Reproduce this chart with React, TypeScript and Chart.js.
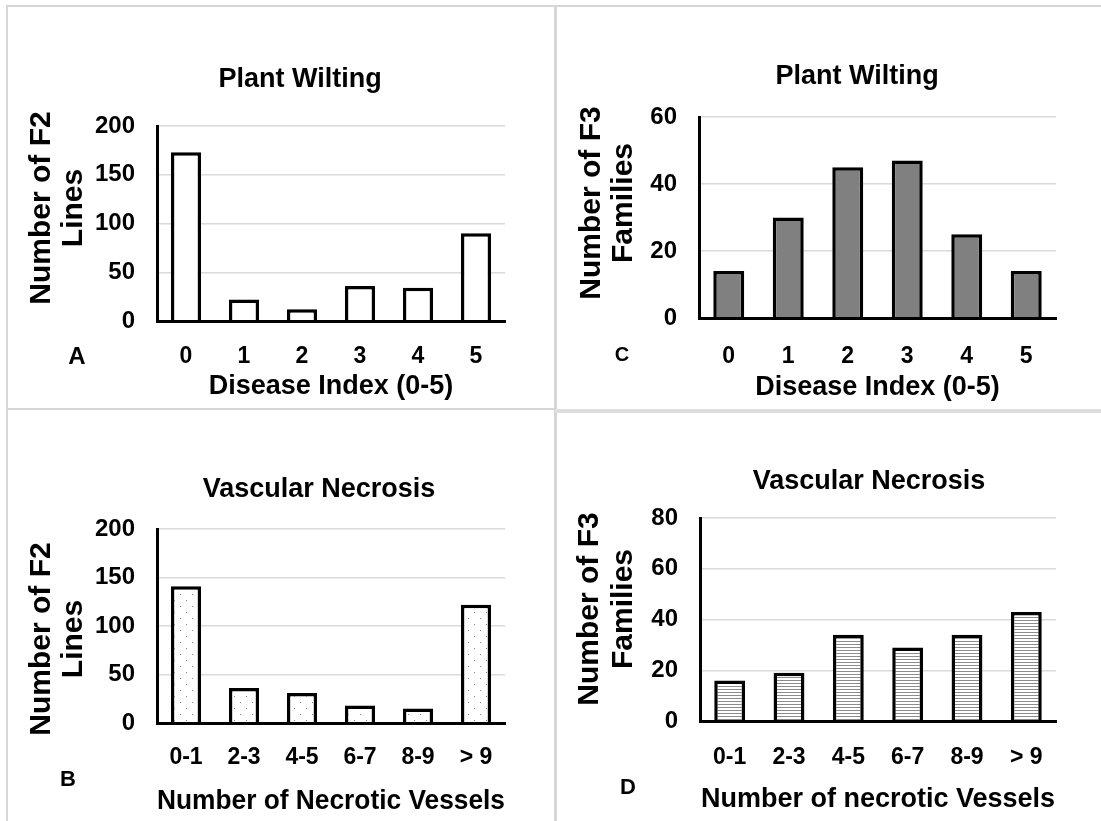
import React, { useEffect, useRef } from "react";
import { Chart, registerables } from "chart.js";

Chart.register(...registerables);

// ---------- data ----------
const diseaseIndexLabels = ["0", "1", "2", "3", "4", "5"];
const vesselLabels = ["0-1", "2-3", "4-5", "6-7", "8-9", "> 9"];

const f2WiltingCounts = [173, 22, 12, 36, 34, 90];
const f3WiltingCounts = [14, 30, 45, 47, 25, 14];
const f2NecrosisCounts = [141, 36, 31, 18, 15, 122];
const f3NecrosisCounts = [16, 19, 34, 29, 34, 43];

const f2AxisMax = 200;
const f2AxisStep = 50;
const f3WiltAxisMax = 60;
const f3NecAxisMax = 80;
const f3AxisStep = 20;

const FONT = "'Liberation Sans', Arial, Helvetica, sans-serif";

type Rect = { x: number; y: number; w: number; h: number };
type PanelCfg = {
  canvas: Rect;
  plot: { l: number; r: number; t: number; b: number };
  labels: string[];
  values: number[];
  yMax: number;
  yStep: number;
  fill: "white" | "gray" | "dots" | "stripes";
  title: { text: string; x: number; y: number };
  yTitle: { lines: string[]; xs: number[]; cy: number };
  letter: { text: string; x: number; y: number; size: number };
  xTitle: { text: string; y: number };
  xTickY: number;
};

const panels: PanelCfg[] = [
  {
    canvas: { x: 9, y: 8, w: 545, h: 400 },
    plot: { l: 157, r: 505, t: 126, b: 321 },
    labels: diseaseIndexLabels,
    values: f2WiltingCounts,
    yMax: f2AxisMax,
    yStep: f2AxisStep,
    fill: "white",
    title: { text: "Plant Wilting", x: 300, y: 80 },
    yTitle: { lines: ["Number of F2", "Lines"], xs: [42, 74], cy: 208 },
    letter: { text: "A", x: 77, y: 357, size: 24 },
    xTitle: { text: "Disease Index (0-5)", y: 387 },
    xTickY: 357,
  },
  {
    canvas: { x: 557, y: 8, w: 544, h: 400 },
    plot: { l: 699, r: 1056, t: 117, b: 318 },
    labels: diseaseIndexLabels,
    values: f3WiltingCounts,
    yMax: f3WiltAxisMax,
    yStep: f3AxisStep,
    fill: "gray",
    title: { text: "Plant Wilting", x: 857, y: 77 },
    yTitle: { lines: ["Number of F3", "Families"], xs: [592, 624], cy: 203 },
    letter: { text: "C", x: 622, y: 355, size: 20 },
    xTitle: { text: "Disease Index (0-5)", y: 388 },
    xTickY: 357,
  },
  {
    canvas: { x: 9, y: 411, w: 545, h: 410 },
    plot: { l: 157, r: 505, t: 529, b: 723 },
    labels: vesselLabels,
    values: f2NecrosisCounts,
    yMax: f2AxisMax,
    yStep: f2AxisStep,
    fill: "dots",
    title: { text: "Vascular Necrosis", x: 319, y: 490 },
    yTitle: { lines: ["Number of F2", "Lines"], xs: [42, 74], cy: 639 },
    letter: { text: "B", x: 68, y: 780, size: 22 },
    xTitle: { text: "Number of Necrotic Vessels", y: 802 },
    xTickY: 758,
  },
  {
    canvas: { x: 557, y: 413, w: 544, h: 408 },
    plot: { l: 700, r: 1056, t: 518, b: 721 },
    labels: vesselLabels,
    values: f3NecrosisCounts,
    yMax: f3NecAxisMax,
    yStep: f3AxisStep,
    fill: "stripes",
    title: { text: "Vascular Necrosis", x: 869, y: 482 },
    yTitle: { lines: ["Number of F3", "Families"], xs: [590, 624], cy: 609 },
    letter: { text: "D", x: 628, y: 788, size: 22 },
    xTitle: { text: "Number of necrotic Vessels", y: 800 },
    xTickY: 758,
  },
];

function makeFill(kind: PanelCfg["fill"]): string | CanvasPattern {
  if (kind === "white") return "#ffffff";
  if (kind === "gray") return "#808080";
  const c = document.createElement("canvas");
  const ctx = c.getContext("2d")!;
  if (kind === "dots") {
    c.width = 12;
    c.height = 12;
    ctx.fillStyle = "#ffffff";
    ctx.fillRect(0, 0, 12, 12);
    ctx.fillStyle = "#8a8a8a";
    ctx.fillRect(3, 3, 1, 1);
    ctx.fillRect(9, 9, 1, 1);
  } else {
    c.width = 4;
    c.height = 3;
    ctx.fillStyle = "#ffffff";
    ctx.fillRect(0, 0, 4, 3);
    ctx.fillStyle = "#8c8c8c";
    ctx.fillRect(0, 0, 4, 1);
  }
  return ctx.createPattern(c, "repeat") as CanvasPattern;
}

const TICK_X_SIZE = 23;
const TICK_Y_SIZE = 24;
const TITLE_SIZE = 27;
const YTITLE_SIZE = 30;

function Panel({ cfg }: { cfg: PanelCfg }) {
  const ref = useRef<HTMLCanvasElement>(null);
  useEffect(() => {
    const cv = ref.current;
    if (!cv) return;
    const { canvas, plot } = cfg;
    const yAxisW = plot.l - canvas.x;
    const padRight = canvas.x + canvas.w - plot.r;
    const padTop = plot.t - canvas.y;
    const xAxisH = canvas.y + canvas.h - plot.b;
    const xTickPad = cfg.xTickY - plot.b - (TICK_X_SIZE * 1.2) / 2;
    const xTitlePad = canvas.y + canvas.h - cfg.xTitle.y - (TITLE_SIZE * 1.2) / 2;

    const panelText = {
      id: "panelText",
      afterDraw(chart: any) {
        const ctx = chart.ctx as CanvasRenderingContext2D;
        ctx.save();
        ctx.fillStyle = "#000";
        ctx.textAlign = "center";
        ctx.textBaseline = "middle";
        ctx.font = `bold ${TITLE_SIZE}px ${FONT}`;
        ctx.fillText(cfg.title.text, cfg.title.x - canvas.x, cfg.title.y - canvas.y);
        ctx.font = `bold ${YTITLE_SIZE}px ${FONT}`;
        cfg.yTitle.lines.forEach((line, i) => {
          ctx.save();
          ctx.translate(cfg.yTitle.xs[i] - canvas.x, cfg.yTitle.cy - canvas.y);
          ctx.rotate(-Math.PI / 2);
          ctx.fillText(line, 0, 0);
          ctx.restore();
        });
        ctx.font = `bold ${cfg.letter.size}px ${FONT}`;
        ctx.fillText(cfg.letter.text, cfg.letter.x - canvas.x, cfg.letter.y - canvas.y);
        ctx.restore();
      },
    };

    const chart = new Chart(cv, {
      type: "bar",
      data: {
        labels: cfg.labels,
        datasets: [
          {
            data: cfg.values,
            backgroundColor: makeFill(cfg.fill),
            borderColor: "#000000",
            borderWidth: 3.5,
            barPercentage: 0.52,
            categoryPercentage: 1,
          },
        ],
      },
      options: {
        animation: false,
        responsive: false,
        devicePixelRatio: 1,
        layout: { padding: { top: padTop, right: padRight, bottom: 0, left: 0 } },
        plugins: {
          legend: { display: false },
          title: { display: false },
          tooltip: { enabled: false },
        },
        scales: {
          x: {
            offset: true,
            grid: { display: false, drawTicks: false },
            border: { display: true, color: "#000000", width: 3, z: 1 },
            ticks: {
              color: "#000000",
              font: { family: FONT, size: TICK_X_SIZE, weight: "bold" },
              padding: xTickPad,
              maxRotation: 0,
              autoSkip: false,
            },
            title: {
              display: true,
              text: cfg.xTitle.text,
              color: "#000000",
              font: { family: FONT, size: TITLE_SIZE, weight: "bold" },
              padding: { top: 0, bottom: xTitlePad },
            },
            afterFit: (s: any) => {
              s.height = xAxisH;
            },
          },
          y: {
            min: 0,
            max: cfg.yMax,
            ticks: {
              stepSize: cfg.yStep,
              color: "#000000",
              font: { family: FONT, size: TICK_Y_SIZE, weight: "bold" },
              padding: 22,
            },
            grid: { color: "#dadada", lineWidth: 1.5, drawTicks: false },
            border: { display: true, color: "#000000", width: 3, z: 1 },
            afterFit: (s: any) => {
              s.width = yAxisW;
            },
          },
        },
      },
      plugins: [panelText],
    } as any);
    return () => chart.destroy();
  }, [cfg]);

  const { canvas } = cfg;
  return (
    <canvas
      ref={ref}
      width={canvas.w}
      height={canvas.h}
      style={{ position: "absolute", left: canvas.x, top: canvas.y, width: canvas.w, height: canvas.h }}
    />
  );
}

const LINE = "#d6d6d6";

export default function App() {
  return (
    <div
      style={{
        position: "absolute",
        left: 0,
        top: 0,
        width: 1101,
        height: 821,
        background: "#ffffff",
        overflow: "hidden",
      }}
    >
      <div style={{ position: "absolute", left: 6, top: 5, width: 1095, height: 2, background: LINE }} />
      <div style={{ position: "absolute", left: 6, top: 5, width: 2, height: 816, background: LINE }} />
      <div style={{ position: "absolute", left: 554, top: 5, width: 3, height: 816, background: LINE }} />
      <div style={{ position: "absolute", left: 6, top: 408, width: 549, height: 2, background: LINE }} />
      <div style={{ position: "absolute", left: 555, top: 409, width: 546, height: 4, background: "#dedede" }} />
      {panels.map((p, i) => (
        <Panel key={i} cfg={p} />
      ))}
    </div>
  );
}
